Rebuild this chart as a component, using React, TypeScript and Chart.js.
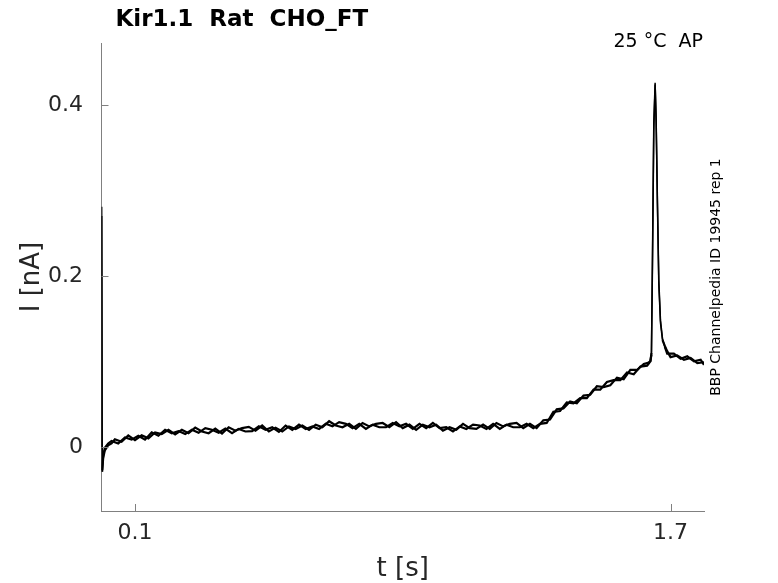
import React, { useEffect, useRef } from "react";
import { Chart, registerables } from "chart.js";

Chart.register(...registerables);

// time samples [s], sweep 1
const timesSweep1 = [
  0, 0.0006, 0.002, 0.005, 0.01, 0.02, 0.03,
  0.04, 0.06, 0.08, 0.10, 0.12, 0.14, 0.16, 0.18, 0.20, 0.22,
  0.24, 0.26, 0.28, 0.30, 0.32, 0.34, 0.36, 0.38, 0.40, 0.42,
  0.44, 0.46, 0.48, 0.50, 0.52, 0.54, 0.56, 0.58, 0.60, 0.62,
  0.64, 0.66, 0.68, 0.70, 0.72, 0.74, 0.76, 0.78, 0.80, 0.82,
  0.84, 0.86, 0.88, 0.90, 0.92, 0.94, 0.96, 0.98, 1.00, 1.02,
  1.04, 1.06, 1.08, 1.10, 1.12, 1.14, 1.16, 1.18, 1.20, 1.22,
  1.24, 1.26, 1.28, 1.30, 1.32, 1.34, 1.36, 1.38, 1.40, 1.42,
  1.44, 1.46, 1.48, 1.50, 1.52, 1.54, 1.56, 1.58, 1.60, 1.62,
  1.63, 1.64,
  1.643, 1.646, 1.650, 1.654, 1.657, 1.661, 1.665, 1.670, 1.676, 1.683,
  1.69, 1.70, 1.72, 1.74, 1.76, 1.78, 1.80,
];

// time samples [s], sweep 2
const timesSweep2 = [
  0, 0.0006, 0.002, 0.005, 0.01, 0.02, 0.03,
  0.05, 0.07, 0.09, 0.11, 0.13, 0.15, 0.17, 0.19, 0.21, 0.23,
  0.25, 0.27, 0.29, 0.31, 0.33, 0.35, 0.37, 0.39, 0.41, 0.43,
  0.45, 0.47, 0.49, 0.51, 0.53, 0.55, 0.57, 0.59, 0.61, 0.63,
  0.65, 0.67, 0.69, 0.71, 0.73, 0.75, 0.77, 0.79, 0.81, 0.83,
  0.85, 0.87, 0.89, 0.91, 0.93, 0.95, 0.97, 0.99, 1.01, 1.03,
  1.05, 1.07, 1.09, 1.11, 1.13, 1.15, 1.17, 1.19, 1.21, 1.23,
  1.25, 1.27, 1.29, 1.31, 1.33, 1.35, 1.37, 1.39, 1.41, 1.43,
  1.45, 1.47, 1.49, 1.51, 1.53, 1.55, 1.57, 1.59, 1.61, 1.63,
  1.636, 1.64,
  1.643, 1.646, 1.650, 1.654, 1.657, 1.661, 1.665, 1.670, 1.676, 1.683,
  1.69, 1.71, 1.73, 1.75, 1.77, 1.79, 1.80,
];

// current [nA], sweep 1
const currentSweep1 = [
  0, 0.281, -0.029, -0.013, -0.004, 0.002, 0.004,
  0.009, 0.006, 0.0135, 0.008, 0.0135, 0.010, 0.017, 0.015, 0.020, 0.0145,
  0.020, 0.016, 0.0225, 0.018, 0.016, 0.0215, 0.0155, 0.023, 0.019, 0.022,
  0.0235, 0.019, 0.025, 0.018, 0.0225, 0.018, 0.024, 0.021, 0.025, 0.020,
  0.026, 0.023, 0.030, 0.025, 0.023, 0.027, 0.021, 0.028, 0.024, 0.027,
  0.028, 0.023, 0.029, 0.022, 0.026, 0.020, 0.026, 0.023, 0.026, 0.019,
  0.023, 0.020, 0.027, 0.022, 0.021, 0.026, 0.021, 0.028, 0.024, 0.027,
  0.028, 0.022, 0.027, 0.022, 0.031, 0.032, 0.044, 0.045, 0.053, 0.051,
  0.060, 0.061, 0.071, 0.070, 0.072, 0.081, 0.079, 0.090, 0.090, 0.097,
  0.098, 0.100,
  0.110, 0.220, 0.380, 0.426, 0.380, 0.280, 0.190, 0.145, 0.125, 0.118,
  0.112, 0.105, 0.107, 0.102, 0.104, 0.098, 0.099,
];

// current [nA], sweep 2
const currentSweep2 = [
  0, 0.270, -0.027, -0.010, -0.001, 0.004, 0.007,
  0.004, 0.011, 0.0085, 0.013, 0.0085, 0.017, 0.013, 0.020, 0.016, 0.0185,
  0.015, 0.020, 0.0165, 0.022, 0.020, 0.0165, 0.0215, 0.016, 0.021, 0.018,
  0.0185, 0.024, 0.020, 0.023, 0.0175, 0.025, 0.020, 0.026, 0.021, 0.024,
  0.021, 0.027, 0.024, 0.029, 0.027, 0.022, 0.027, 0.021, 0.026, 0.023,
  0.023, 0.028, 0.024, 0.027, 0.021, 0.027, 0.022, 0.028, 0.022, 0.023,
  0.018, 0.024, 0.021, 0.026, 0.025, 0.021, 0.027, 0.021, 0.026, 0.023,
  0.023, 0.027, 0.022, 0.027, 0.028, 0.041, 0.042, 0.052, 0.051, 0.057,
  0.057, 0.067, 0.067, 0.076, 0.078, 0.078, 0.087, 0.085, 0.094, 0.095,
  0.098, 0.101,
  0.108, 0.210, 0.370, 0.424, 0.385, 0.285, 0.195, 0.148, 0.127, 0.117,
  0.109, 0.109, 0.103, 0.106, 0.100, 0.102, 0.096,
];

const xTickValues = [0.1, 1.7];
const yTickValues = [0, 0.2, 0.4];
const xLimits = [0, 1.8];
const yLimits = [-0.075, 0.4725];

const titleText = "Kir1.1  Rat  CHO_FT";
const conditionText = "25 °C  AP";
const sideText = "BBP Channelpedia ID 19945 rep 1";
const xTitle = "t [s]";
const yTitle = "I [nA]";

const FONT = "'DejaVu Sans', 'Liberation Sans', sans-serif";
const AXIS_COLOR = "#808080";
const TEXT_COLOR = "#262626";

const decorPlugin = {
  id: "decor",
  afterDraw(chart: any) {
    const { ctx, chartArea, scales } = chart;
    ctx.save();
    // inward tick marks
    ctx.strokeStyle = AXIS_COLOR;
    ctx.lineWidth = 1;
    ctx.beginPath();
    for (const v of yTickValues) {
      const y = Math.round(scales.y.getPixelForValue(v)) + 0.5;
      ctx.moveTo(chartArea.left, y);
      ctx.lineTo(chartArea.left + 7, y);
    }
    for (const v of xTickValues) {
      const x = Math.round(scales.x.getPixelForValue(v)) + 0.5;
      ctx.moveTo(x, chartArea.bottom);
      ctx.lineTo(x, chartArea.bottom - 7);
    }
    ctx.stroke();

    // title
    ctx.fillStyle = "#000";
    ctx.font = `bold 23px ${FONT}`;
    ctx.textAlign = "left";
    ctx.textBaseline = "alphabetic";
    ctx.fillText(titleText, chartArea.left + 14, 26);

    // condition
    ctx.font = `19px ${FONT}`;
    ctx.textAlign = "right";
    ctx.fillText(conditionText, chartArea.right - 1, 47);

    // side text
    ctx.save();
    ctx.font = `14px ${FONT}`;
    ctx.textAlign = "center";
    ctx.translate(chartArea.right + 16, (chartArea.top + chartArea.bottom) / 2);
    ctx.rotate(-Math.PI / 2);
    ctx.fillText(sideText, 0, 0);
    ctx.restore();

    // axis titles
    ctx.fillStyle = TEXT_COLOR;
    ctx.font = `26px ${FONT}`;
    ctx.textAlign = "center";
    ctx.fillText(xTitle, (chartArea.left + chartArea.right) / 2, 576);
    ctx.save();
    ctx.translate(39, (chartArea.top + chartArea.bottom) / 2);
    ctx.rotate(-Math.PI / 2);
    ctx.fillText(yTitle, 0, 0);
    ctx.restore();

    ctx.restore();
  },
};

// thinner stroke on the fast transients, thicker on the noisy baseline
const segmentWidth = (ctx: any) => {
  const a = ctx.p0.parsed;
  const b = ctx.p1.parsed;
  if (Math.max(a.y, b.y) > 0.125 || b.x < 0.004) return 1.5;
  return 2.2;
};

export default function App() {
  const canvasRef = useRef<HTMLCanvasElement | null>(null);

  useEffect(() => {
    const canvas = canvasRef.current;
    if (!canvas) return;
    const mk = (ts: number[], ys: number[]) => ts.map((t, i) => ({ x: t, y: ys[i] }));
    const chart = new Chart(canvas, {
      type: "line",
      data: {
        datasets: [
          {
            data: mk(timesSweep1, currentSweep1),
            borderColor: "#000",
            borderWidth: 2.2,
            segment: { borderWidth: segmentWidth },
            pointRadius: 0,
            tension: 0,
          },
          {
            data: mk(timesSweep2, currentSweep2),
            borderColor: "#000",
            borderWidth: 2.2,
            segment: { borderWidth: segmentWidth },
            pointRadius: 0,
            tension: 0,
          },
        ],
      },
      options: {
        animation: false,
        responsive: true,
        maintainAspectRatio: false,
        layout: { padding: { left: 41.5, right: 74, top: 43, bottom: 32 } },
        plugins: {
          legend: { display: false },
          tooltip: { enabled: false },
          title: { display: false },
        },
        scales: {
          x: {
            type: "linear",
            min: xLimits[0],
            max: xLimits[1],
            afterBuildTicks: (scale: any) => {
              scale.ticks = xTickValues.map((v) => ({ value: v }));
            },
            afterFit: (scale: any) => {
              scale.height = 40;
            },
            ticks: {
              callback: (v: any) => String(v),
              font: { size: 22, family: FONT },
              color: TEXT_COLOR,
              padding: 9,
              maxRotation: 0,
              autoSkip: false,
            },
            grid: { display: false, drawTicks: false },
            border: { display: true, color: AXIS_COLOR, width: 1 },
          },
          y: {
            type: "linear",
            min: yLimits[0],
            max: yLimits[1],
            afterBuildTicks: (scale: any) => {
              scale.ticks = yTickValues.map((v) => ({ value: v }));
            },
            afterFit: (scale: any) => {
              scale.width = 60;
            },
            ticks: {
              callback: (v: any) => String(v),
              font: { size: 22, family: FONT },
              color: TEXT_COLOR,
              padding: 18.5,
              autoSkip: false,
            },
            grid: { display: false, drawTicks: false },
            border: { display: true, color: AXIS_COLOR, width: 1 },
          },
        },
      },
      plugins: [decorPlugin],
    });
    return () => chart.destroy();
  }, []);

  return (
    <div style={{ position: "fixed", left: 0, top: 0, width: 778, height: 583, background: "#fff" }}>
      <canvas ref={canvasRef} />
    </div>
  );
}
